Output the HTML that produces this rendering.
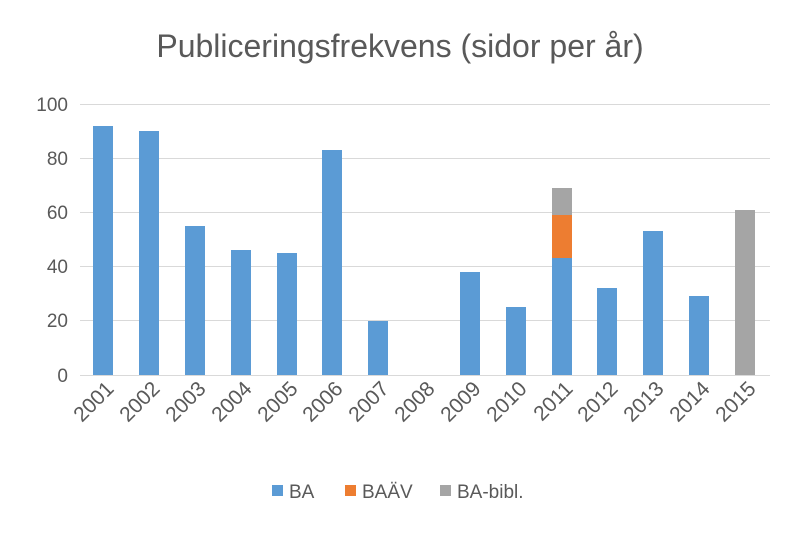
<!DOCTYPE html>
<html><head><meta charset="utf-8"><style>html,body{margin:0;padding:0;background:#fff}</style></head>
<body>
<svg width="800" height="534" xmlns="http://www.w3.org/2000/svg" font-family="Liberation Sans, sans-serif" fill="#595959">
<text x="400" y="57" font-size="32" text-anchor="middle">Publiceringsfrekvens (sidor per år)</text>
<g stroke="#d9d9d9" stroke-width="1">
<line x1="80" x2="770" y1="104.5" y2="104.5"/>
<line x1="80" x2="770" y1="158.5" y2="158.5"/>
<line x1="80" x2="770" y1="212.5" y2="212.5"/>
<line x1="80" x2="770" y1="266.5" y2="266.5"/>
<line x1="80" x2="770" y1="320.5" y2="320.5"/>
<line x1="80" x2="770" y1="375.5" y2="375.5"/>
</g>
<g font-size="19" text-anchor="end">
<text x="68" y="111">100</text><text x="68" y="165">80</text><text x="68" y="219">60</text>
<text x="68" y="273">40</text><text x="68" y="327">20</text><text x="68" y="382">0</text>
</g>
<g fill="#5B9BD5">
<rect x="93" y="126" width="20" height="249"/>
<rect x="139" y="131" width="20" height="244"/>
<rect x="185" y="226" width="20" height="149"/>
<rect x="231" y="250" width="20" height="125"/>
<rect x="277" y="253" width="20" height="122"/>
<rect x="322" y="150" width="20" height="225"/>
<rect x="368" y="321" width="20" height="54"/>
<rect x="460" y="272" width="20" height="103"/>
<rect x="506" y="307" width="20" height="68"/>
<rect x="552" y="258" width="20" height="117"/>
<rect x="597" y="288" width="20" height="87"/>
<rect x="643" y="231" width="20" height="144"/>
<rect x="689" y="296" width="20" height="79"/>
</g>
<rect x="552" y="215" width="20" height="43" fill="#ED7D31"/>
<rect x="552" y="188" width="20" height="27" fill="#A5A5A5"/>
<rect x="735" y="210" width="20" height="165" fill="#A5A5A5"/>
<g font-size="21" text-anchor="end">
<text transform="translate(115,390) rotate(-45)">2001</text>
<text transform="translate(161,390) rotate(-45)">2002</text>
<text transform="translate(207,390) rotate(-45)">2003</text>
<text transform="translate(253,390) rotate(-45)">2004</text>
<text transform="translate(299,390) rotate(-45)">2005</text>
<text transform="translate(344,390) rotate(-45)">2006</text>
<text transform="translate(390,390) rotate(-45)">2007</text>
<text transform="translate(436,390) rotate(-45)">2008</text>
<text transform="translate(482,390) rotate(-45)">2009</text>
<text transform="translate(528,390) rotate(-45)">2010</text>
<text transform="translate(574,390) rotate(-45)">2011</text>
<text transform="translate(619,390) rotate(-45)">2012</text>
<text transform="translate(665,390) rotate(-45)">2013</text>
<text transform="translate(711,390) rotate(-45)">2014</text>
<text transform="translate(757,390) rotate(-45)">2015</text>
</g>
<g font-size="19">
<rect x="272" y="485" width="11" height="11" fill="#5B9BD5"/><text x="289" y="498">BA</text>
<rect x="345" y="485" width="11" height="11" fill="#ED7D31"/><text x="362" y="498">BAÄV</text>
<rect x="440" y="485" width="11" height="11" fill="#A5A5A5"/><text x="457" y="498">BA-bibl.</text>
</g>
</svg>
</body></html>
